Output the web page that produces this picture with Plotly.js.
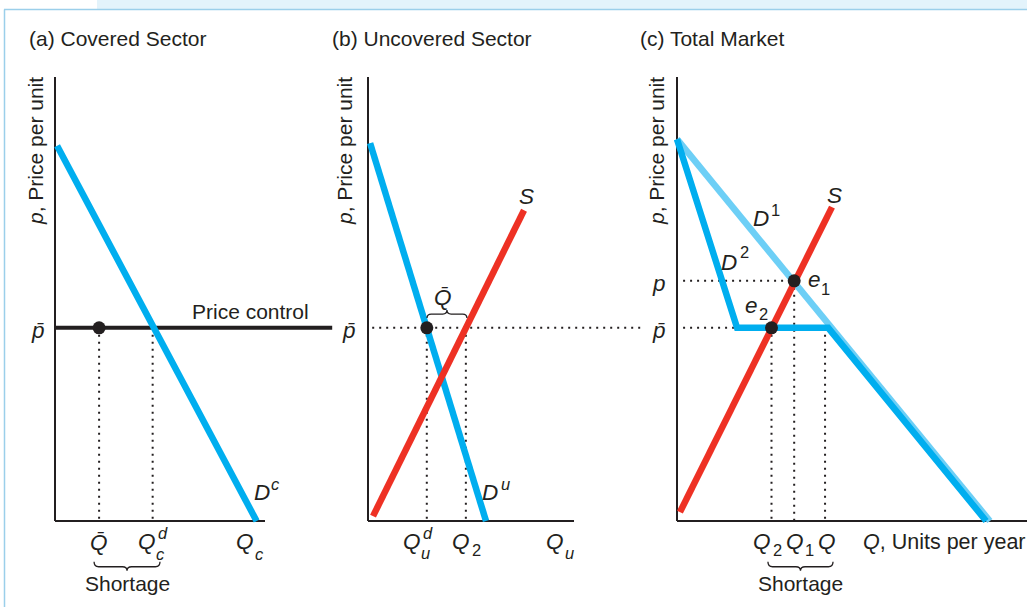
<!DOCTYPE html>
<html><head><meta charset="utf-8">
<script src="https://cdn.plot.ly/plotly-3.0.1.min.js"></script>
<style>html,body{margin:0;padding:0;background:#fff;}#chart{width:1027px;height:607px;}</style>
</head><body><div id="chart"></div>
<script>
// ---------------- data (price p, quantity Q in model units) ----------------
const pBar = 4.35;                 // controlled price
const axisTopP = 10;
// (a) Covered sector
const covAxisQ = 10;
const covDemandQ = [0.1, 9.6];
const covDemandP = [8.45, 0];
const covControlQ = [0, 13.2];
const covQBar = 2.1;               // quantity supplied at p-bar
const covQd = 4.65;                // quantity demanded at p-bar
const covShortage = [1.86, 5.0];
// (b) Uncovered sector
const uncAxisQ = 9.81;
const uncDemandQ = [0.1, 5.62];
const uncDemandP = [8.51, 0];
const uncSupplyQ = [0.24, 7.43];
const uncSupplyP = [0.11, 7.0];
const uncQd = 2.8;
const uncQ2 = 4.66;
const uncPriceLineQ = [0.2, 13.2];
const uncQBarBrace = [2.81, 4.71];
// (c) Total market
const totAxisQ = 16.67;
const d1Q = [0, 14.9];
const d1P = [8.6, 0];
const d2Q = [0, 2.86, 7.2, 14.72];
const d2P = [8.6, pBar, pBar, 0];
const totSupplyQ = [0.14, 7.38];
const totSupplyP = [0.2, 7.07];
const pMarket = 5.41;
const totQ2 = 4.5, totQ1 = 5.58, totQ = 7.05;
const totShortage = [4.33, 7.43];

// ---------------- styling ----------------
const INK = '#231f20', BLUE = '#00aeef', LIGHT = '#6dcff6', RED = '#ee3124';
const FONT = 'Liberation Sans, Arial, sans-serif';
const DOT = '2px,5px';
const axes = [['x','y'],['x2','y2'],['x3','y3']];

const traces = [];
function ln(k, q, p, color, width, dash) {
  traces.push({type:'scatter', mode:'lines', x:q, y:p, xaxis:axes[k][0], yaxis:axes[k][1],
    line:{color:color, width:width, dash:dash||'solid'}, hoverinfo:'skip'});
}
function dots(k, q, p) {
  traces.push({type:'scatter', mode:'markers', x:q, y:p, xaxis:axes[k][0], yaxis:axes[k][1],
    marker:{color:INK, size:13}, hoverinfo:'skip', cliponaxis:false});
}

// axes drawn as lines
[[0,covAxisQ],[1,uncAxisQ],[2,totAxisQ]].forEach(([k,xm]) => {
  ln(k, [0,0], [axisTopP,0], INK, 2);
  ln(k, [0,xm], [0,0], INK, 2);
});

// (a)
ln(0, [covQBar,covQBar], [pBar,0], INK, 2, DOT);
ln(0, [covQd,covQd], [pBar,0], INK, 2, DOT);
ln(0, covControlQ, [pBar,pBar], INK, 4);
ln(0, covDemandQ, covDemandP, BLUE, 6.5);
dots(0, [covQBar], [pBar]);

// (b)
ln(1, uncPriceLineQ, [pBar,pBar], INK, 2, DOT);
ln(1, [uncQd,uncQd], [pBar,0], INK, 2, DOT);
ln(1, [uncQ2,uncQ2], [pBar,0], INK, 2, DOT);
ln(1, uncDemandQ, uncDemandP, BLUE, 6.5);
ln(1, uncSupplyQ, uncSupplyP, RED, 6.5);
dots(1, [uncQd], [pBar]);

// (c)
ln(2, [0.29, totQ1], [pMarket,pMarket], INK, 2, DOT);
ln(2, [0.29, d2Q[1]], [pBar,pBar], INK, 2, DOT);
ln(2, [totQ2,totQ2], [pBar,0], INK, 2, DOT);
ln(2, [totQ1,totQ1], [pMarket,0], INK, 2, DOT);
ln(2, [totQ,totQ], [pBar,0], INK, 2, DOT);
ln(2, d1Q, d1P, LIGHT, 6.5);
ln(2, d2Q, d2P, BLUE, 6.5);
ln(2, totSupplyQ, totSupplyP, RED, 6.5);
dots(2, [totQ1, totQ2], [pMarket, pBar]);

// ---------------- text ----------------
const ann = [];
const L = 22.5, S = 16.5;
function t(k, q, p, text, size, extra) {
  ann.push(Object.assign({xref:axes[k][0], yref:axes[k][1], x:q, y:p, text:text, showarrow:false,
    xanchor:'center', yanchor:'middle', font:{family:FONT, size:size||L, color:INK}}, extra||{}));
}
function paper(xpx, ypx, text, extra) {
  ann.push(Object.assign({xref:'paper', yref:'paper', x:xpx/1027, y:1-ypx/607, text:text, showarrow:false,
    xanchor:'left', yanchor:'middle', font:{family:FONT, size:21, color:INK}}, extra||{}));
}
// titles
paper(27, 38, '(a) Covered Sector');
paper(330, 38, '(b) Uncovered Sector');
paper(638, 38, '(c) Total Market');
[36, 345, 657].forEach(x => paper(x, 151, '<i>p</i>, Price per unit', {textangle:-90, xanchor:'center'}));

// (a)
t(0, -0.81, 4.30, '<i>p\u0304</i>');
t(0, 9.29, 4.71, 'Price control', 21);
t(0, 9.86, 0.65, '<i>D</i>'); t(0, 10.5, 0.83, '<i>c</i>', S);
t(0, covQBar, -0.48, '<i>Q\u0304</i>');
t(0, 4.38, -0.47, '<i>Q</i>'); t(0, 5.12, -0.28, '<i>d</i>', S); t(0, 5.02, -0.74, '<i>c</i>', S);
t(0, 9.05, -0.47, '<i>Q</i>'); t(0, 9.75, -0.74, '<i>c</i>', S);
t(0, 3.43, -1.40, 'Shortage', 21);
// (b)
t(1, -0.905, 4.30, '<i>p\u0304</i>');
t(1, 7.57, 7.30, '<i>S</i>');
t(1, 3.57, 5.04, '<i>Q\u0304</i>');
t(1, 5.81, 0.65, '<i>D</i>'); t(1, 6.55, 0.83, '<i>u</i>', S);
t(1, 2.1, -0.47, '<i>Q</i>'); t(1, 2.84, -0.28, '<i>d</i>', S); t(1, 2.74, -0.72, '<i>u</i>', S);
t(1, 4.43, -0.47, '<i>Q</i>'); t(1, 5.17, -0.65, '2', S);
t(1, 8.9, -0.47, '<i>Q</i>'); t(1, 9.6, -0.72, '<i>u</i>', S);
// (c)
t(2, -0.857, 5.36, '<i>p</i>');
t(2, -0.857, 4.30, '<i>p\u0304</i>');
t(2, 4.0, 6.82, '<i>D</i>'); t(2, 4.7, 7.0, '1', S);
t(2, 2.48, 5.83, '<i>D</i>'); t(2, 3.22, 6.06, '2', S);
t(2, 7.48, 7.34, '<i>S</i>');
t(2, 6.57, 5.43, '<i>e</i>'); t(2, 7.08, 5.23, '1', S);
t(2, 3.57, 4.86, '<i>e</i>'); t(2, 4.12, 4.67, '2', S);
t(2, 4.05, -0.47, '<i>Q</i>'); t(2, 4.79, -0.65, '2', S);
t(2, 5.62, -0.47, '<i>Q</i>'); t(2, 6.32, -0.65, '1', S);
t(2, 7.12, -0.47, '<i>Q</i>');
t(2, 8.78, -0.47, '<i>Q</i>, Units per year', 21.5, {xanchor:'left'});
t(2, 5.9, -1.40, 'Shortage', 21);

// ---------------- braces & frame ----------------
function brace(q0, q1, yEnd, yMid, yTip, r) {
  const c = (q0 + q1) / 2;
  return `M ${q0} ${yEnd} Q ${q0} ${yMid} ${q0+r} ${yMid} L ${c-r} ${yMid} Q ${c} ${yMid} ${c} ${yTip} ` +
         `Q ${c} ${yMid} ${c+r} ${yMid} L ${q1-r} ${yMid} Q ${q1} ${yMid} ${q1} ${yEnd}`;
}
const shapes = [
  {type:'rect', xref:'paper', yref:'paper', x0:97/1027, x1:1, y0:1-9.5/607, y1:1, fillcolor:'#e3f3fb', line:{width:0}},
  {type:'line', xref:'paper', yref:'paper', x0:4/1027, x1:1, y0:1-9.5/607, y1:1-9.5/607, line:{color:'#9bcfea', width:1.5}},
  {type:'line', xref:'paper', yref:'paper', x0:4.5/1027, x1:4.5/1027, y0:0, y1:1-9.5/607, line:{color:'#9bcfea', width:1.5}},
  {type:'path', xref:'x', yref:'y', path:brace(covShortage[0], covShortage[1], -0.92, -1.03, -1.12, 0.22), line:{color:INK, width:1.3}},
  {type:'path', xref:'x2', yref:'y2', path:brace(uncQBarBrace[0], uncQBarBrace[1], 4.57, 4.66, 4.75, 0.2), line:{color:INK, width:1.3}},
  {type:'path', xref:'x3', yref:'y3', path:brace(totShortage[0], totShortage[1], -0.92, -1.03, -1.12, 0.22), line:{color:INK, width:1.3}}
];

const yr = [(521-607)/44.4, 521/44.4];
const ax = (d, r, anchor) => ({domain:d, range:r, visible:false, fixedrange:true, anchor:anchor});
const layout = {
  width:1027, height:607, margin:{l:0, r:0, t:0, b:0}, showlegend:false,
  paper_bgcolor:'#ffffff', plot_bgcolor:'rgba(0,0,0,0)',
  xaxis: ax([0, 345/1027], [-55/21, 290/21], 'y'),
  xaxis2: ax([345/1027, 665/1027], [-23/21, 297/21], 'y2'),
  xaxis3: ax([640/1027, 1], [-37/21, 350/21], 'y3'),
  yaxis: ax([0,1], yr, 'x'),
  yaxis2: ax([0,1], yr, 'x2'),
  yaxis3: ax([0,1], yr, 'x3'),
  annotations: ann, shapes: shapes
};
Plotly.newPlot('chart', traces, layout, {staticPlot:true, displayModeBar:false});
</script></body></html>
